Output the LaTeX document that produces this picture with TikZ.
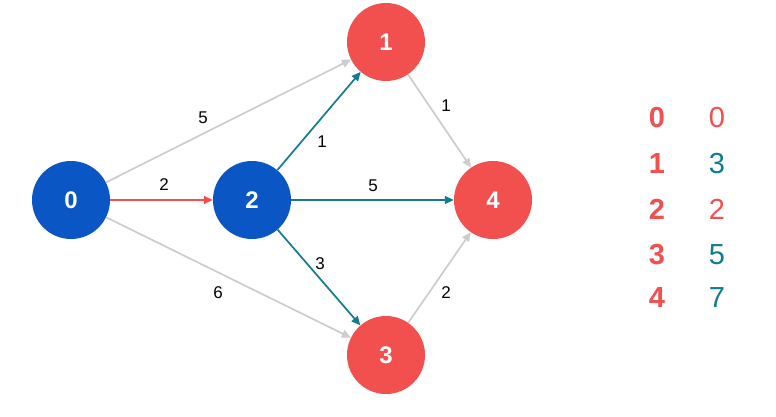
\documentclass[tikz,border=0pt]{standalone}
\usepackage{fontspec}
\setmainfont{Liberation Sans}
\usetikzlibrary{arrows.meta}
\definecolor{nblue}{HTML}{0A56C4}
\definecolor{nred}{HTML}{F24F4F}
\definecolor{eteal}{HTML}{137C8E}
\definecolor{egray}{HTML}{CDCDCD}
\tikzset{
  vtx/.style={circle, minimum size=78pt, inner sep=0pt, text=white, font=\fontsize{24}{24}\selectfont\bfseries},
  bluev/.style={vtx, fill=nblue},
  redv/.style={vtx, fill=nred},
  edge/.style={line width=1.7pt, -{Triangle[length=9pt,width=8pt]}},
  grayedge/.style={edge, draw=egray},
  tealedge/.style={edge, draw=eteal},
  rededge/.style={edge, draw=nred},
  wlabel/.style={font=\fontsize{17}{17}\selectfont, text=black},
  tabl/.style={font=\fontsize{29}{29}\selectfont\bfseries, text=nred},
  tabr/.style={font=\fontsize{29}{29}\selectfont},
}
\begin{document}
\begin{tikzpicture}[x=1pt,y=-1pt]
\useasboundingbox[fill=white] (0,0) rectangle (776,417);
\node[bluev] (n0) at (71,200) {0};
\node[bluev] (n2) at (252,200) {2};
\node[redv] (n1) at (386,42) {1};
\node[redv] (n4) at (493,200) {4};
\node[redv] (n3) at (386,355) {3};

\draw[grayedge] (n0) -- (n1);
\draw[grayedge] (n0) -- (n3);
\draw[rededge] (n0) -- (n2);
\draw[tealedge] (n2) -- (n1);
\draw[tealedge] (n2) -- (n4);
\draw[tealedge] (n2) -- (n3);
\draw[grayedge] (n1) -- (n4);
\draw[grayedge] (n3) -- (n4);

\node[wlabel] (l01) at (203,118) {5};
\node[wlabel] (l02) at (164,185) {2};
\node[wlabel] (l03) at (218,293) {6};
\node[wlabel] (l21) at (322,142) {1};
\node[wlabel] (l24) at (373,186) {5};
\node[wlabel] (l23) at (320,264) {3};
\node[wlabel] (l14) at (446,106) {1};
\node[wlabel] (l34) at (446,293) {2};

\node[tabl] (a0) at (657,118) {0};
\node[tabl] (a1) at (657,164) {1};
\node[tabl] (a2) at (657,209) {2};
\node[tabl] (a3) at (657,255) {3};
\node[tabl] (a4) at (657,298) {4};
\node[tabr, text=nred] (b0) at (717,118) {0};
\node[tabr, text=eteal] (b1) at (717,164) {3};
\node[tabr, text=nred] (b2) at (717,209) {2};
\node[tabr, text=eteal] (b3) at (717,255) {5};
\node[tabr, text=eteal] (b4) at (717,298) {7};
\end{tikzpicture}
\end{document}
